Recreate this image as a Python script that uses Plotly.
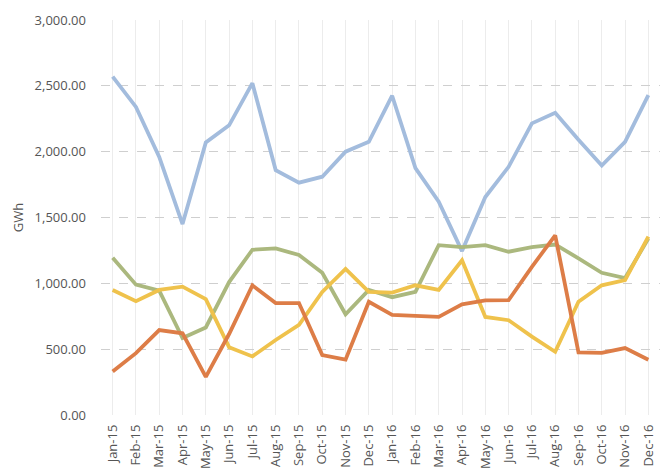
import plotly.graph_objects as go

months = ["Jan-15", "Feb-15", "Mar-15", "Apr-15", "May-15", "Jun-15", "Jul-15", "Aug-15",
          "Sep-15", "Oct-15", "Nov-15", "Dec-15", "Jan-16", "Feb-16", "Mar-16", "Apr-16",
          "May-16", "Jun-16", "Jul-16", "Aug-16", "Sep-16", "Oct-16", "Nov-16", "Dec-16"]

blue_gwh = [2570, 2340, 1960, 1450, 2070, 2200, 2520, 1860, 1765, 1810, 2000, 2075,
            2425, 1875, 1620, 1245, 1655, 1885, 2215, 2295, 2090, 1895, 2075, 2430]
green_gwh = [1195, 990, 945, 585, 665, 1010, 1255, 1265, 1215, 1080, 765, 950,
             895, 935, 1290, 1275, 1290, 1240, 1275, 1295, 1190, 1080, 1040, 1340]
yellow_gwh = [950, 865, 950, 975, 880, 515, 445, 570, 685, 935, 1110, 935,
              930, 985, 950, 1175, 745, 720, 595, 480, 860, 985, 1025, 1355]
red_gwh = [330, 470, 645, 620, 290, 615, 985, 850, 850, 455, 420, 860,
           760, 752, 745, 840, 870, 872, 1125, 1365, 475, 472, 508, 420]

series = [
    (blue_gwh, "#a3bcdd"),
    (green_gwh, "#abb87e"),
    (yellow_gwh, "#efc24c"),
    (red_gwh, "#dd7d47"),
]

fig = go.Figure()
for values, colour in series:
    fig.add_trace(go.Scatter(
        x=months, y=values, mode="lines",
        line=dict(color=colour, width=3.8),
        showlegend=False,
    ))

label_font = dict(family="Open Sans, Liberation Sans, sans-serif", size=13, color="#555555")

fig.update_layout(
    width=661, height=468,
    margin=dict(l=101, r=1, t=20, b=53),
    paper_bgcolor="white", plot_bgcolor="white",
    xaxis=dict(
        type="category", range=[-0.5, 23.5],
        tickangle=-90, tickfont=label_font, automargin=False,
        ticklabelstandoff=6,
        showgrid=True, gridcolor="#ececec", gridwidth=1,
        showline=False, zeroline=False, ticks="",
    ),
    yaxis=dict(
        range=[0, 3000], dtick=500, tickformat=",.2f",
        tickfont=label_font, automargin=False,
        ticklabelstandoff=14,
        title=dict(text="GWh", font=label_font, standoff=8),
        showgrid=True, gridcolor="#cfcfcf", griddash="dash", gridwidth=1,
        zeroline=False, showline=False, ticks="",
    ),
)

fig.write_html("out.html")
